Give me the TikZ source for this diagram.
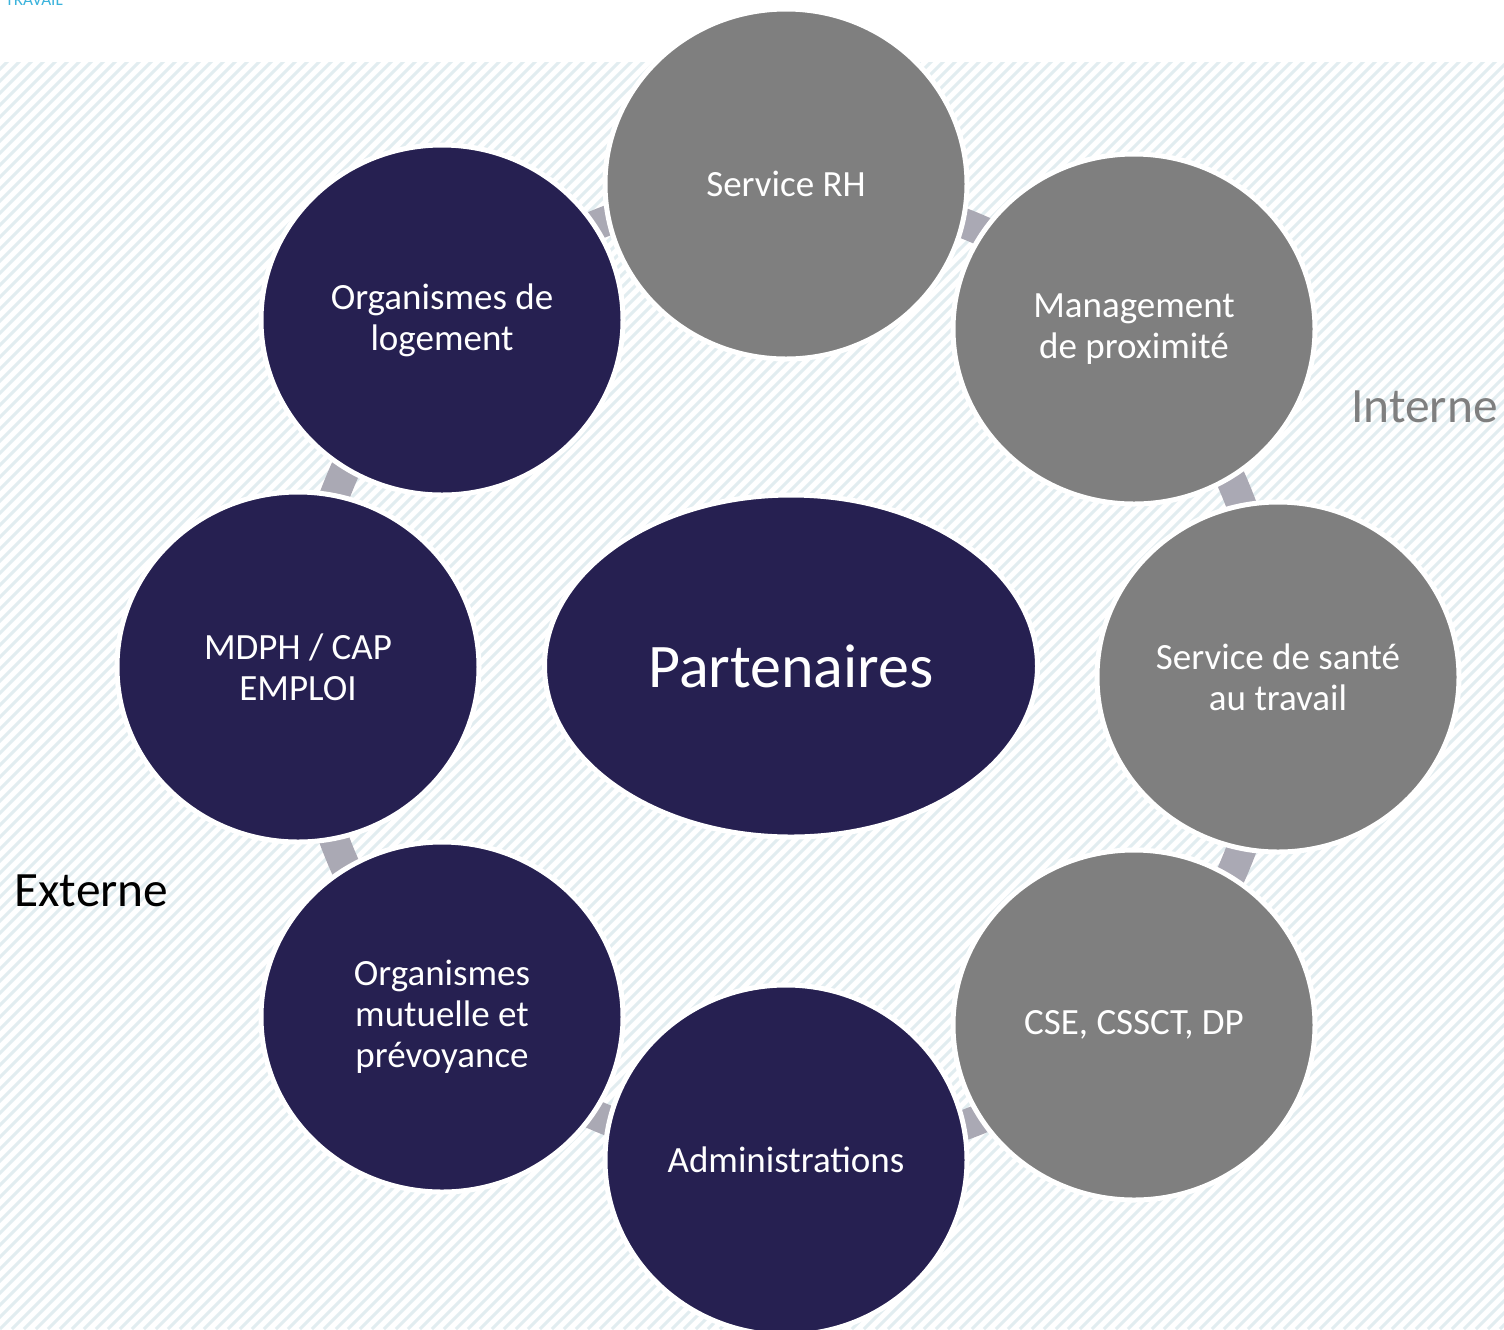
\documentclass[tikz,border=0pt]{standalone}
\usepackage{fontspec}
\setmainfont{Carlito}
\usetikzlibrary{shapes.geometric,backgrounds}
\definecolor{navy}{HTML}{262051}
\definecolor{gry}{HTML}{7F7F7F}
\definecolor{conncol}{HTML}{AAA9B4}
\definecolor{hatchcol}{HTML}{E2EDF0}
\definecolor{logocol}{HTML}{3BB3DC}
\begin{document}
\begin{tikzpicture}[x=0.5pt,y=-0.5pt,
  bubble/.style={ellipse, draw=white, line width=2.5pt, inner sep=0pt,
    minimum width=181pt, minimum height=175pt, text=white, align=center,
    font=\fontsize{18.5pt}{20.5pt}\selectfont},
  inbubble/.style={bubble, fill=gry},
  exbubble/.style={bubble, fill=navy},
  link/.style={draw=conncol, line width=15pt},
  sidelabel/.style={inner sep=0pt, font=\fontsize{24.7pt}{29pt}\selectfont}]
\useasboundingbox (0,0) rectangle (1504,1329);
\begin{pgfonlayer}{background}
\fill[white] (0,0) rectangle (1504,1329);
\begin{scope}
\clip (0,62) rectangle (1504,1329);
\foreach \i in {-1344,-1332,...,1510}
  \draw[hatchcol, line width=1.5pt] (\i,1329) -- ++(1329,-1329);
\end{scope}
\end{pgfonlayer}
\node[anchor=base west, inner sep=0pt, text=logocol, font=\fontsize{8.6pt}{10pt}\selectfont] (logo) at (5,5) {TRAVAIL};
% bubbles
\node[inbubble] (rh) at (786,184) {Service RH};
\node[inbubble] (mgmt) at (1134,329) {Management\\de proximité};
\node[inbubble] (sante) at (1278,677) {Service de santé\\au travail};
\node[inbubble] (cse) at (1134,1025) {CSE, CSSCT, DP};
\node[exbubble] (admin) at (786,1160) {Administrations};
\node[exbubble] (mutuelle) at (442,1017) {Organismes\\mutuelle et\\prévoyance};
\node[exbubble] (mdph) at (298,667) {MDPH / CAP\\EMPLOI};
\node[exbubble] (logement) at (442,320) {Organismes de\\logement};
\node[ellipse, fill=navy, draw=white, line width=2.5pt, inner sep=0pt,
  minimum width=246.5pt, minimum height=171pt, text=white,
  font=\fontsize{31pt}{36pt}\selectfont] (part) at (791,666) {Partenaires};
% connectors along the ring
\begin{pgfonlayer}{background}
\draw[link] (rh.center) to[bend left=17] (mgmt.center);
\draw[link] (mgmt.center) to[bend left=17] (sante.center);
\draw[link] (sante.center) to[bend left=17] (cse.center);
\draw[link] (cse.center) to[bend left=17] (admin.center);
\draw[link] (admin.center) to[bend left=17] (mutuelle.center);
\draw[link] (mutuelle.center) to[bend left=17] (mdph.center);
\draw[link] (mdph.center) to[bend left=17] (logement.center);
\draw[link] (logement.center) to[bend left=17] (rh.center);
\end{pgfonlayer}
% side labels
\node[sidelabel, anchor=west, text=gry] (interne) at (1351,407) {Interne};
\node[sidelabel, anchor=west, text=black] (externe) at (14,891) {Externe};
\end{tikzpicture}
\end{document}
